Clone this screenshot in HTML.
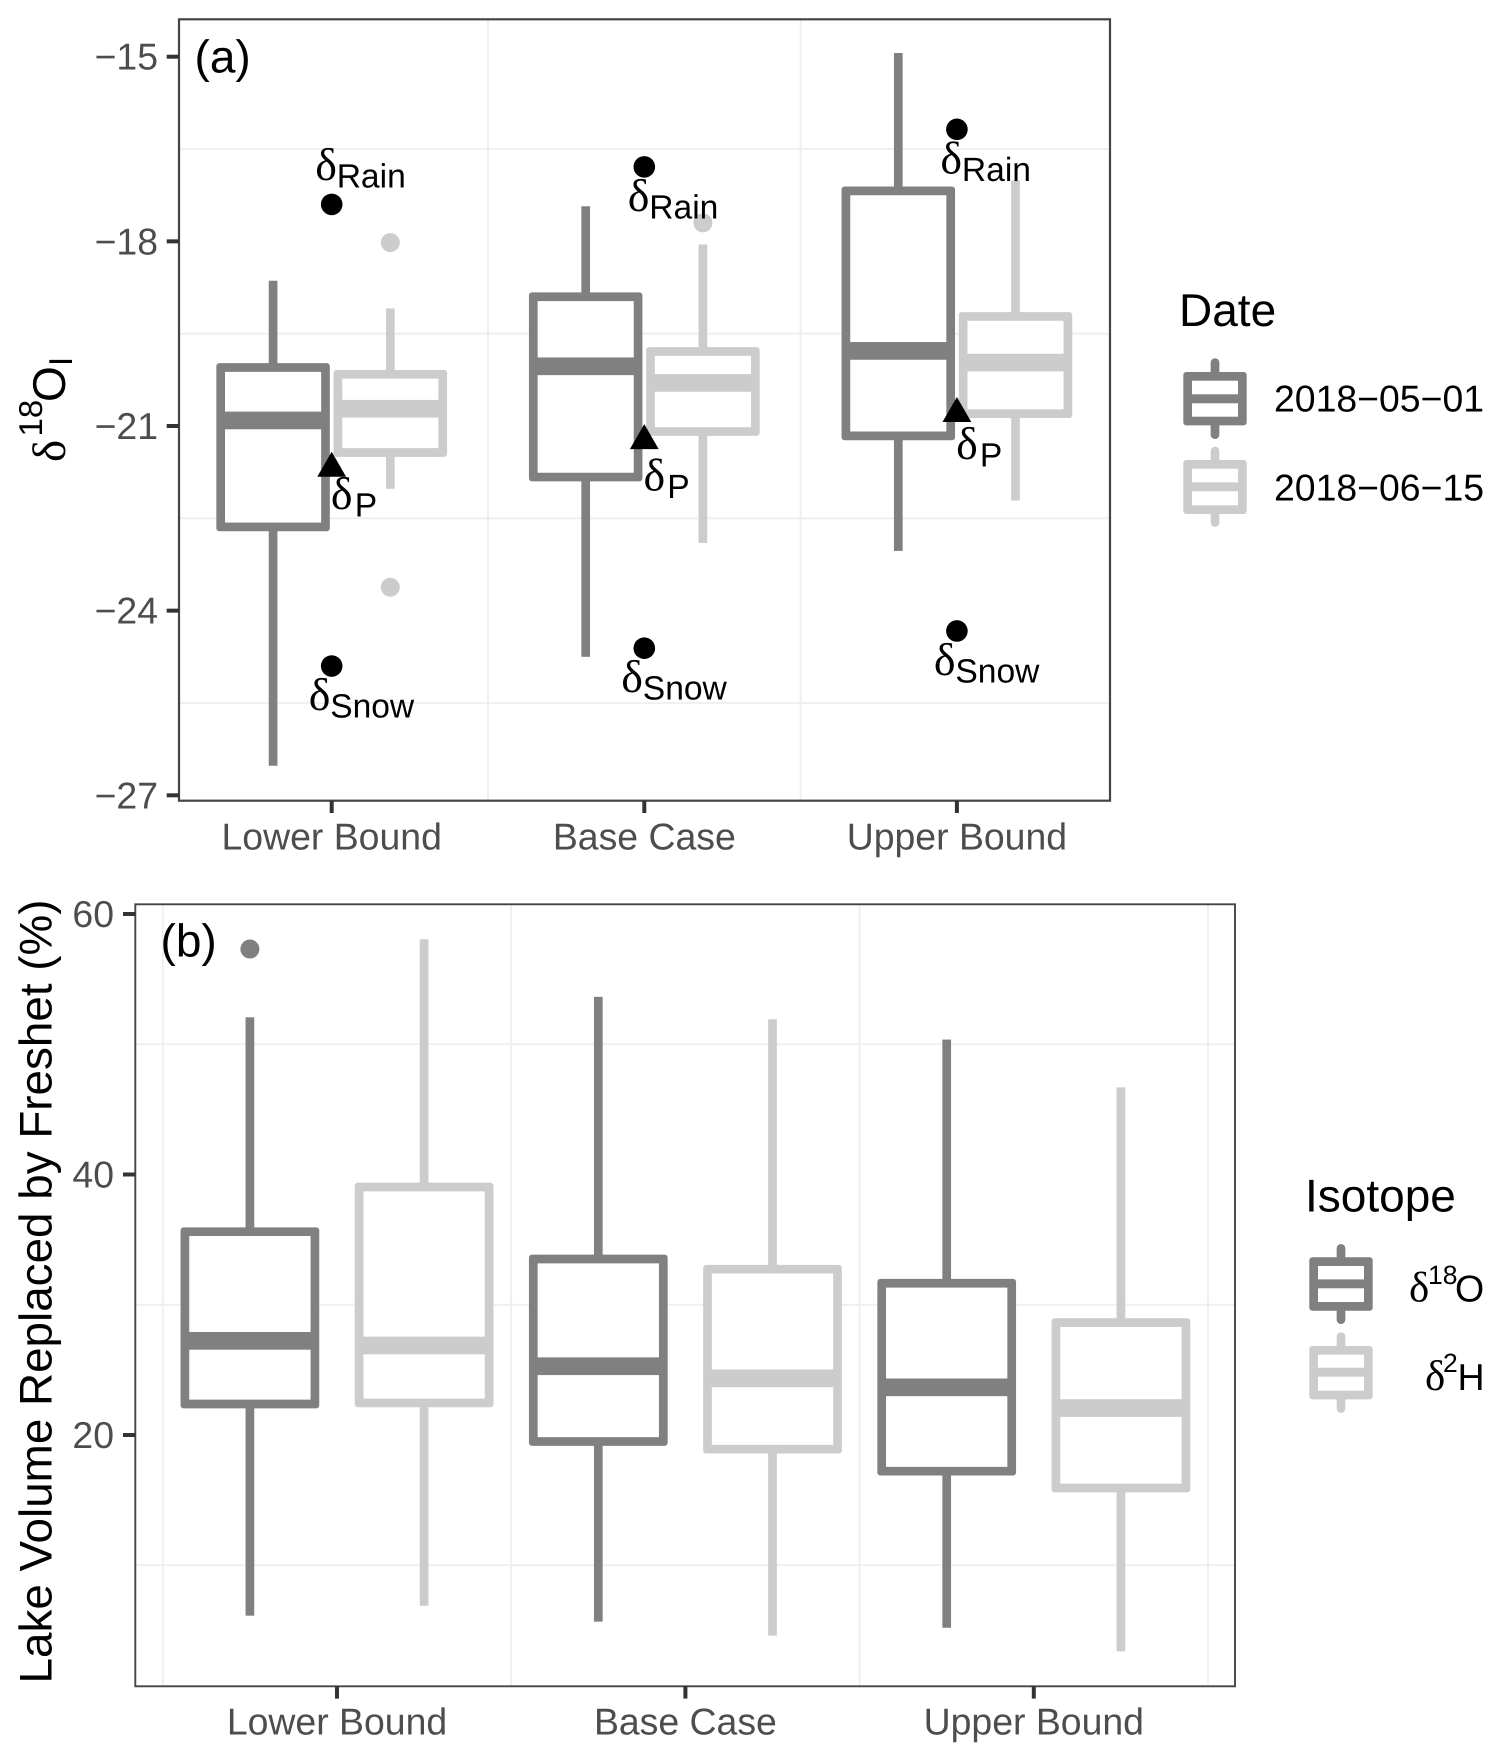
<!DOCTYPE html>
<html lang="en">
<head>
<meta charset="utf-8">
<title>Isotope boxplots</title>
<style>
html,body{margin:0;padding:0;background:#fff;}
svg{display:block;text-rendering:geometricPrecision;}
text{font-family:"Liberation Sans",sans-serif;}
.sym{font-family:"Liberation Serif",serif;}
</style>
</head>
<body>
<svg id="chart" xmlns="http://www.w3.org/2000/svg" width="1501" height="1761" viewBox="0 0 1501 1761">
  <rect x="0" y="0" width="1501" height="1761" fill="#fff"/>
  <g id="panelA"></g>
  <g id="panelB"></g>

  <g transform="translate(65,461) rotate(-90)" fill="#000">
    <text class="sym" x="-1" y="0" font-size="47">δ</text>
    <text x="24.5" y="-23" font-size="33">18</text>
    <text x="59" y="0" font-size="46">O</text>
    <text x="95" y="7" font-size="33">I</text>
  </g>
  <text x="194.5" y="72.5" font-size="46" fill="#000">(a)</text>

  <g>
    <text x="1179" y="326" font-size="46" fill="#000">Date</text>
    <g>
      <line x1="1215" y1="362.6" x2="1215" y2="434.7" stroke="#808080" stroke-width="8.7" stroke-linecap="round"/>
      <rect x="1183.3" y="372" width="63.4" height="53.4" rx="3" fill="#808080"/>
      <rect x="1192" y="380.7" width="46" height="13.6" fill="#fff"/>
      <rect x="1192" y="403.3" width="46" height="13.4" fill="#fff"/>
    </g>
    <text x="1274" y="411.7" font-size="37.4" fill="#000">2018−05−01</text>
    <g>
      <line x1="1215" y1="451" x2="1215" y2="522.4" stroke="#cccccc" stroke-width="8.7" stroke-linecap="round"/>
      <rect x="1183.3" y="460" width="63.4" height="54" rx="3" fill="#cccccc"/>
      <rect x="1192" y="468.7" width="46" height="13.6" fill="#fff"/>
      <rect x="1192" y="491.3" width="46" height="14" fill="#fff"/>
    </g>
    <text x="1274" y="500.7" font-size="37.4" fill="#000">2018−06−15</text>
  </g>

  <text transform="translate(51.7,1683.5) rotate(-90)" x="0" y="0" font-size="45.8" fill="#000">Lake Volume Replaced by Freshet (%)</text>
  <text x="160.5" y="956.7" font-size="46" fill="#000">(b)</text>

  <g>
    <text x="1305" y="1211.7" font-size="46" fill="#000">Isotope</text>
    <g>
      <line x1="1341" y1="1248.3" x2="1341" y2="1319.7" stroke="#808080" stroke-width="8.7" stroke-linecap="round"/>
      <rect x="1309.3" y="1257.3" width="63.4" height="53.4" rx="3" fill="#808080"/>
      <rect x="1318" y="1266" width="46" height="13.4" fill="#fff"/>
      <rect x="1318" y="1288.3" width="46" height="13.7" fill="#fff"/>
    </g>
    <g fill="#000">
      <text class="sym" x="1409" y="1301.7" font-size="43">δ</text>
      <text x="1428" y="1284" font-size="26.5">18</text>
      <text x="1455" y="1301.7" font-size="37.5">O</text>
    </g>
    <g>
      <line x1="1341" y1="1336.6" x2="1341" y2="1408.4" stroke="#cccccc" stroke-width="8.7" stroke-linecap="round"/>
      <rect x="1309.3" y="1346" width="63.4" height="53.4" rx="3" fill="#cccccc"/>
      <rect x="1318" y="1354.7" width="46" height="13" fill="#fff"/>
      <rect x="1318" y="1376.7" width="46" height="14" fill="#fff"/>
    </g>
    <g fill="#000">
      <text class="sym" x="1425" y="1390" font-size="43">δ</text>
      <text x="1443" y="1372" font-size="26.5">2</text>
      <text x="1457.5" y="1390" font-size="37.5">H</text>
    </g>
  </g>
</svg>
<script>
// ---------- Panel (a) data ----------
const categoriesA = ['Lower Bound', 'Base Case', 'Upper Bound'];
const yTicksA = [-15, -18, -21, -24, -27];
const yMinorA = [-16.5, -19.5, -22.5, -25.5];
const xMinorA = [1.5, 2.5];

const mayHigh = [-18.64, -17.43, -14.94];
const mayQ3 = [-20.05, -18.90, -17.18];
const mayMedian = [-20.91, -20.03, -19.78];
const mayQ1 = [-22.64, -21.83, -21.16];
const mayLow = [-26.52, -24.75, -23.03];

const juneHigh = [-19.09, -18.05, -17.01];
const juneQ3 = [-20.16, -19.79, -19.22];
const juneMedian = [-20.72, -20.30, -19.97];
const juneQ1 = [-21.43, -21.09, -20.80];
const juneLow = [-22.02, -22.90, -22.21];

const juneOutlierCategory = [0, 0, 1];
const juneOutlierValue = [-18.02, -23.62, -17.70];

const rainValues = [-17.40, -16.79, -16.18];
const snowValues = [-24.90, -24.61, -24.33];
const precipValues = [-21.69, -21.24, -20.80];
const precipLabelValues = [-22.35, -22.05, -21.54];
const rainLabelBelow = [false, true, true];

// ---------- Panel (b) data ----------
const categoriesB = ['Lower Bound', 'Base Case', 'Upper Bound'];
const yTicksB = [60, 40, 20];
const yMinorB = [50, 30, 10];
const xMinorB = [0.5, 1.5, 2.5, 3.5];

const o18High = [52.07, 53.64, 50.36];
const o18Q3 = [35.61, 33.51, 31.65];
const o18Median = [27.23, 25.28, 23.66];
const o18Q1 = [22.38, 19.50, 17.22];
const o18Low = [6.13, 5.67, 5.20];

const h2High = [58.06, 51.92, 46.69];
const h2Q3 = [39.04, 32.73, 28.63];
const h2Median = [26.87, 24.35, 22.07];
const h2Q1 = [22.46, 18.91, 15.93];
const h2Low = [6.89, 4.60, 3.39];

const o18OutlierCategory = [0];
const o18OutlierValue = [57.31];

// ---------- Axis functions ----------
const plotA = {left: 179, right: 1110, top: 19.3, bottom: 800.7};
const plotB = {left: 135.3, right: 1235, top: 904.3, bottom: 1686.3};

function xA(pos) { return 331.7 + (pos - 1) * 312.6; }
function yA(v) { return 56.7 + (-15 - v) * 61.55; }
function xB(pos) { return 337 + (pos - 1) * 348.4; }
function yB(v) { return 914 + (60 - v) * 13.025; }

const DARK = '#808080';
const LIGHT = '#cccccc';
const STROKE = 8.7;
const MEDIAN = 17.7;
const NS = 'http://www.w3.org/2000/svg';

function make(parent, tag, attrs, content) {
  const el = document.createElementNS(NS, tag);
  for (const k in attrs) el.setAttribute(k, attrs[k]);
  if (content !== undefined) el.textContent = content;
  parent.appendChild(el);
  return el;
}

function drawGrid(g, plot, xf, yf, xs, ys) {
  ys.forEach(function (v) {
    const line = make(g, 'line', {x1: plot.left, x2: plot.right, y1: yf(v), y2: yf(v), stroke: '#eeeeee', 'stroke-width': 1.8});
    
    
  });
  xs.forEach(function (v) {
    const line = make(g, 'line', {x1: xf(v), x2: xf(v), y1: plot.top, y2: plot.bottom, stroke: '#eeeeee', 'stroke-width': 1.8});
    
    
  });
}

function drawFrame(g, plot, xf, yf, cats, ticks, labelRight, xBase, minus, borderWidth) {
  const frame = make(g, 'rect', {x: plot.left, y: plot.top, width: plot.right - plot.left, height: plot.bottom - plot.top, fill: 'none', stroke: '#454545', 'stroke-width': borderWidth});
  
  
  ticks.forEach(function (v) {
    const tick = make(g, 'line', {x1: plot.left - 12.3, x2: plot.left, y1: yf(v), y2: yf(v), stroke: '#333333', 'stroke-width': 4});
    
    
    const label = make(g, 'text', {x: labelRight, y: yf(v) + 13, 'text-anchor': 'end', 'font-size': 37.4, fill: '#4d4d4d'}, minus ? '−' + Math.abs(v) : String(v));
    
    
  });
  cats.forEach(function (c, i) {
    const tick = make(g, 'line', {x1: xf(i + 1), x2: xf(i + 1), y1: plot.bottom, y2: plot.bottom + 12.3, stroke: '#333333', 'stroke-width': 4});
    
    
    const label = make(g, 'text', {x: xf(i + 1), y: xBase, 'text-anchor': 'middle', 'font-size': 37.4, fill: '#4d4d4d'}, c);
    
    
  });
}

function drawBox(g, name, cx, halfWidth, color, yHigh, yQ3, yMed, yQ1, yLow) {
  const box = make(g, 'g', {});
  
  

  const upper = make(box, 'rect', {x: cx - STROKE / 2, y: yHigh, width: STROKE, height: yQ3 - yHigh, fill: color});
  
  

  const lower = make(box, 'rect', {x: cx - STROKE / 2, y: yQ1, width: STROKE, height: yLow - yQ1, fill: color});
  
  

  const outer = make(box, 'rect', {x: cx - halfWidth - STROKE / 2, y: yQ3 - STROKE / 2, width: 2 * halfWidth + STROKE, height: yQ1 - yQ3 + STROKE, rx: 3, fill: color});
  
  

  const inner = make(box, 'rect', {x: cx - halfWidth + STROKE / 2, y: yQ3 + STROKE / 2, width: 2 * halfWidth - STROKE, height: yQ1 - yQ3 - STROKE, fill: '#ffffff'});
  
  

  const med = make(box, 'rect', {x: cx - halfWidth, y: yMed - MEDIAN / 2, width: 2 * halfWidth, height: MEDIAN, fill: color});
  
  
}

function drawDeltaLabel(g, name, x, y, deltaDx, subDx, sub) {
  const lab = make(g, 'g', {fill: '#000'});
  
  
  const d = make(lab, 'text', {x: x + deltaDx, y: y, 'font-size': 46, 'class': 'sym'}, 'δ');
  
  
  const s = make(lab, 'text', {x: x + subDx, y: y + 7.5, 'font-size': 33.6}, sub);
  
  
}

// ---------- Render panel (a) ----------
const gA = document.getElementById('panelA');
drawGrid(gA, plotA, xA, yA, xMinorA, yMinorA);

const DODGE_A = 0.1875;
const HALF_A = 52.4;
categoriesA.forEach(function (c, i) {
  drawBox(gA, 'box-2018-05-01-' + (i + 1), xA(i + 1 - DODGE_A), HALF_A, DARK, yA(mayHigh[i]), yA(mayQ3[i]), yA(mayMedian[i]), yA(mayQ1[i]), yA(mayLow[i]));
  drawBox(gA, 'box-2018-06-15-' + (i + 1), xA(i + 1 + DODGE_A), HALF_A, LIGHT, yA(juneHigh[i]), yA(juneQ3[i]), yA(juneMedian[i]), yA(juneQ1[i]), yA(juneLow[i]));
});
juneOutlierValue.forEach(function (v, j) {
  const dot = make(gA, 'circle', {cx: xA(juneOutlierCategory[j] + 1 + DODGE_A), cy: yA(v), r: 9.5, fill: LIGHT});
  
  
});
categoriesA.forEach(function (c, i) {
  const x = xA(i + 1);
  const rain = make(gA, 'circle', {cx: x, cy: yA(rainValues[i]), r: 10.8, fill: '#000'});
  
  
  const snow = make(gA, 'circle', {cx: x, cy: yA(snowValues[i]), r: 10.8, fill: '#000'});
  
  
  const py = yA(precipValues[i]);
  const tri = make(gA, 'polygon', {points: x + ',' + (py - 16.7) + ' ' + (x + 14.4) + ',' + (py + 8.3) + ' ' + (x - 14.4) + ',' + (py + 8.3), fill: '#000'});
  
  

  const rainBaseline = yA(rainValues[i]) + (rainLabelBelow[i] ? 44 : -24.3);
  drawDeltaLabel(gA, 'rain-label', x, rainBaseline, -16.5, 5, 'Rain');
  drawDeltaLabel(gA, 'snow-label', x, yA(snowValues[i]) + 44, -23, -1.5, 'Snow');
  drawDeltaLabel(gA, 'precipitation-label', x, yA(precipLabelValues[i]), -0.8, 23, 'P');
});
drawFrame(gA, plotA, xA, yA, categoriesA, yTicksA, 158, 849.3, true, 2.2);

// ---------- Render panel (b) ----------
const gB = document.getElementById('panelB');
drawGrid(gB, plotB, xB, yB, xMinorB, yMinorB);

const DODGE_B = 0.25;
const HALF_B = 65;
categoriesB.forEach(function (c, i) {
  drawBox(gB, 'box-delta-18-o-' + (i + 1), xB(i + 1 - DODGE_B), HALF_B, DARK, yB(o18High[i]), yB(o18Q3[i]), yB(o18Median[i]), yB(o18Q1[i]), yB(o18Low[i]));
  drawBox(gB, 'box-delta-2-h-' + (i + 1), xB(i + 1 + DODGE_B), HALF_B, LIGHT, yB(h2High[i]), yB(h2Q3[i]), yB(h2Median[i]), yB(h2Q1[i]), yB(h2Low[i]));
});
o18OutlierValue.forEach(function (v, j) {
  const dot = make(gB, 'circle', {cx: xB(o18OutlierCategory[j] + 1 - DODGE_B), cy: yB(v), r: 9.5, fill: DARK});
  
  
});
drawFrame(gB, plotB, xB, yB, categoriesB, yTicksB, 114, 1734.3, false, 1.9);
</script>
</body>
</html>
